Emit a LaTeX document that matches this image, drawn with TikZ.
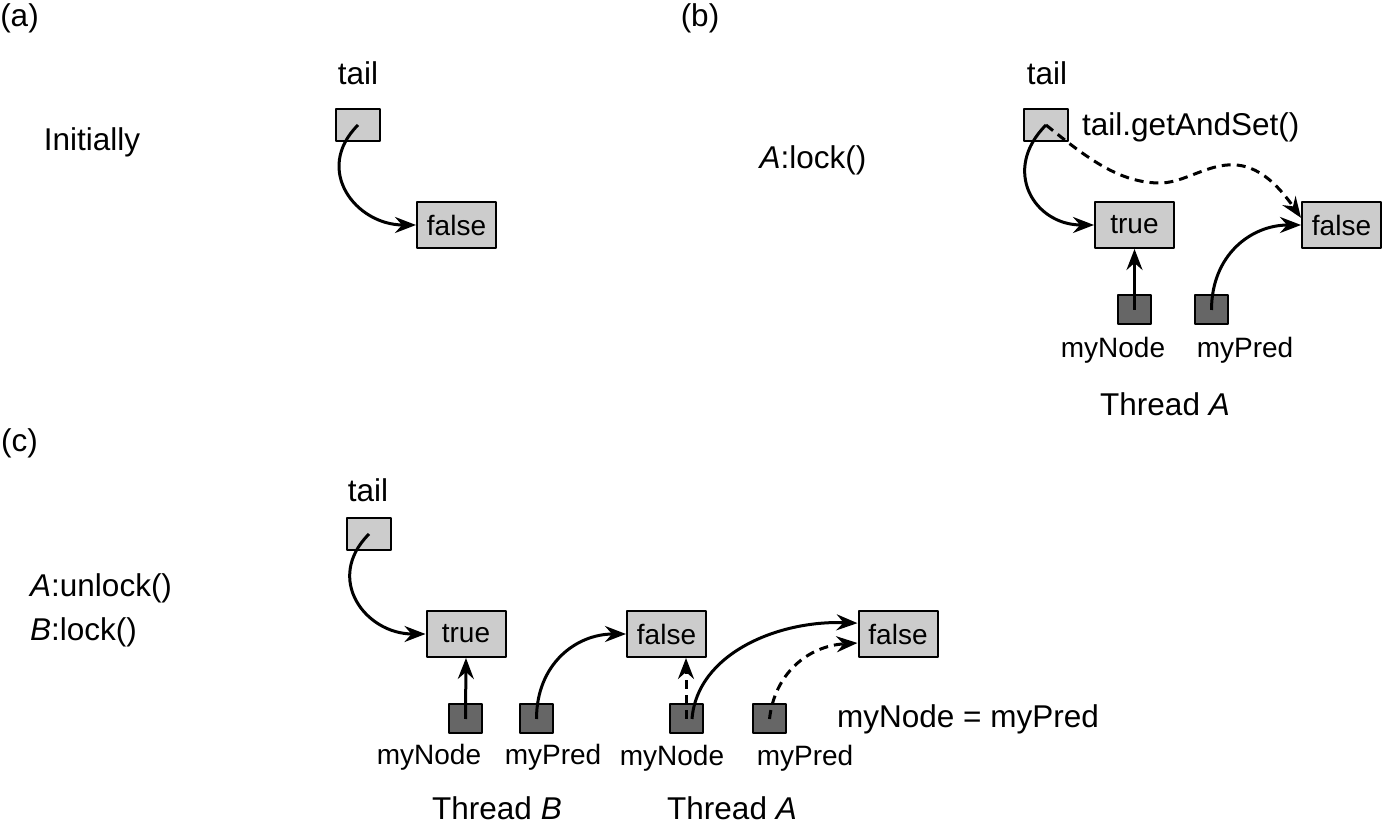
\documentclass[tikz,border=0pt]{standalone}
\usepackage{fontspec}
\setmainfont{Liberation Sans}
\usetikzlibrary{arrows.meta}
\definecolor{lightcell}{HTML}{CCCCCC}
\definecolor{darkcell}{HTML}{666666}
\begin{document}
\begin{tikzpicture}[>={Stealth[length=21bp,width=16bp,inset=7bp]},line join=bevel,
  txt/.style={inner sep=0pt,font=\fontsize{31.5bp}{37bp}\selectfont},
  smalltxt/.style={inner sep=0pt,font=\fontsize{28bp}{33bp}\selectfont},
  tailbox/.style={draw=black,line width=2bp,fill=lightcell,minimum width=44bp,minimum height=32bp,inner sep=0pt},
  valbox/.style={draw=black,line width=2bp,fill=lightcell,minimum width=79bp,minimum height=46bp,inner sep=0pt,font=\fontsize{28bp}{33bp}\selectfont},
  varbox/.style={draw=black,line width=2bp,fill=darkcell,minimum width=33bp,minimum height=29bp,inner sep=0pt},
  ptr/.style={black,line width=3bp,->},
  dptr/.style={ptr,dash pattern=on 9bp off 6bp}]
\useasboundingbox (0bp,0bp) rectangle (1383bp,824bp);
%% (a)
\node (lbl_a) at (19.5bp,806.0bp) [txt] {(a)};
  \node (init_a) at (92.0bp,682.0bp) [txt] {Initially};
  \node (tailtxt_a) at (358.0bp,751.0bp) [txt] {tail};
  \node (tail_a) at (358.0bp,699.0bp) [tailbox] {};
  \node (false_a) at (456.5bp,599.0bp) [valbox] {false};
  \draw [ptr] (tail_a.center) ..controls +(-45bp,-45bp) and +(-60bp,0bp) .. (false_a.west);
%% (b)
\node (lbl_b) at (700.0bp,806.0bp) [txt] {(b)};
  \node (lock_b) at (813.0bp,664.0bp) [txt] {\textit{A}:lock()};
  \node (tailtxt_b) at (1047.0bp,751.0bp) [txt] {tail};
  \node (tail_b) at (1046.0bp,699.0bp) [tailbox] {};
  \node (gas_b) at (1082.0bp,697.0bp) [txt,anchor=west] {tail.getAndSet()};
  \node (true_b) at (1134.5bp,599.0bp) [valbox] {true};
  \node (false_b) at (1341.5bp,599.0bp) [valbox] {false};
  \node (node_b) at (1134.5bp,514.0bp) [varbox] {};
  \node (pred_b) at (1211.5bp,514.0bp) [varbox] {};
  \node (nodetxt_b) at (1113.0bp,474.0bp) [smalltxt] {myNode};
  \node (predtxt_b) at (1245.0bp,474.0bp) [smalltxt] {myPred};
  \node (thread_b) at (1165.0bp,420.0bp) [txt] {Thread \textit{A}};
  \coordinate (dip_b) at (1160.0bp,641.0bp);
  \draw [ptr] (tail_b.center) ..controls +(-45bp,-45bp) and +(-60bp,0bp) .. (true_b.west);
  \draw [dptr] (tail_b.center) ..controls +(42bp,-34bp) and +(-40bp,0bp) .. (dip_b)
    ..controls +(40bp,0bp) and +(-62bp,89bp) .. (false_b.170);
  \draw [ptr] (node_b.center) -- (true_b.south);
  \draw [ptr] (pred_b.center) ..controls +(0bp,55bp) and +(-50bp,0bp) .. (false_b.west);
%% (c)
\node (lbl_c) at (19.5bp,381.0bp) [txt] {(c)};
  \node (unlock_c) at (30.0bp,236.0bp) [txt,anchor=west] {\textit{A}:unlock()};
  \node (lock_c) at (30.0bp,192.0bp) [txt,anchor=west] {\textit{B}:lock()};
  \node (tailtxt_c) at (368.0bp,334.0bp) [txt] {tail};
  \node (tail_c) at (369.0bp,290.0bp) [tailbox] {};
  \node (true_c) at (466.0bp,190.0bp) [valbox] {true};
  \node (false_c) at (666.5bp,190.0bp) [valbox] {false};
  \node (false_d) at (898.0bp,190.0bp) [valbox] {false};
  \node (node_cb) at (465.5bp,105.0bp) [varbox] {};
  \node (pred_cb) at (536.5bp,105.0bp) [varbox] {};
  \node (node_ca) at (686.0bp,105.0bp) [varbox] {};
  \node (pred_ca) at (769.5bp,105.0bp) [varbox] {};
  \node (nodetxt_cb) at (429.0bp,67.0bp) [smalltxt] {myNode};
  \node (predtxt_cb) at (553.0bp,67.0bp) [smalltxt] {myPred};
  \node (nodetxt_ca) at (672.0bp,66.0bp) [smalltxt] {myNode};
  \node (predtxt_ca) at (805.0bp,66.0bp) [smalltxt] {myPred};
  \node (thread_cb) at (497.0bp,16.0bp) [txt] {Thread \textit{B}};
  \node (thread_ca) at (732.0bp,16.0bp) [txt] {Thread \textit{A}};
  \node (eq_c) at (837.0bp,105.0bp) [txt,anchor=west] {myNode = myPred};
  \draw [ptr] (tail_c.center) ..controls +(-45bp,-45bp) and +(-60bp,0bp) .. (true_c.west);
  \draw [ptr] (node_cb.center) -- (true_c.south);
  \draw [ptr] (pred_cb.center) ..controls +(0bp,55bp) and +(-50bp,0bp) .. (false_c.west);
  \draw [dptr] (node_ca.center) -- (node_ca.center |- false_c.south);
  \draw [ptr] ([xshift=6bp]node_ca.center) ..controls +(5bp,65bp) and +(-80bp,3bp) .. (false_d.165);
  \draw [dptr] (pred_ca.center) ..controls +(5bp,45bp) and +(-50bp,-3bp) .. ([yshift=-9bp]false_d.west);
%
\end{tikzpicture}
\end{document}
